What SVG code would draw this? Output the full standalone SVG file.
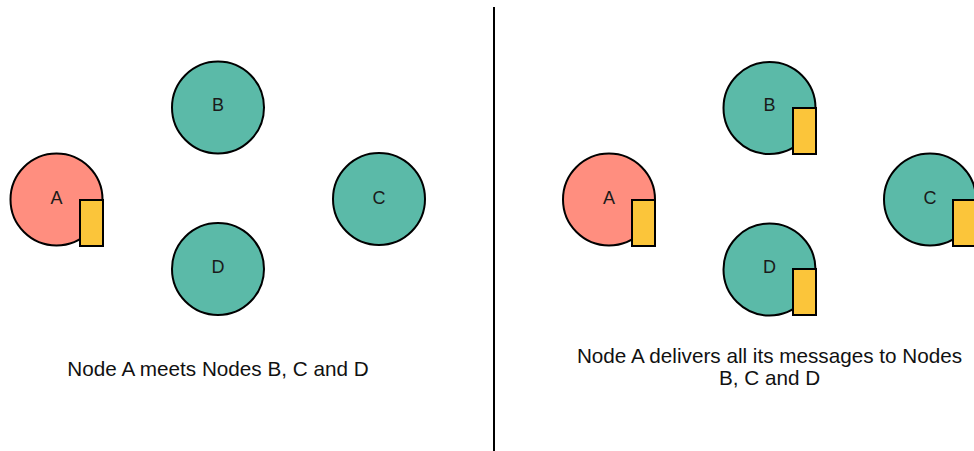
<svg xmlns="http://www.w3.org/2000/svg" width="974" height="451" viewBox="0 0 974 451">
  <style>
    .node { stroke: #000; stroke-width: 2; }
    .a { fill: #FF8E7F; }
    .t { fill: #5BBAA8; }
    .msg { fill: #FBC53A; stroke: #000; stroke-width: 2; }
    .lbl { font-family: "Liberation Sans", Arial, sans-serif; font-size: 18px; fill: #1a1a1a; text-anchor: middle; }
    .cap { font-family: "Liberation Sans", Arial, sans-serif; font-size: 20.7px; fill: #111; text-anchor: middle; }
  </style>
  <rect width="974" height="451" fill="#fff"/>

  <!-- left panel: A meets B, C, D -->
  <g id="left-A">
    <circle class="node a" cx="56.5" cy="199.5" r="46"/>
    <rect class="msg" x="80" y="200" width="23" height="46"/>
    <text class="lbl" x="56.5" y="204">A</text>
  </g>
  <g id="left-B">
    <circle class="node t" cx="218" cy="107.5" r="46"/>
    <text class="lbl" x="218" y="111">B</text>
  </g>
  <g id="left-C">
    <circle class="node t" cx="379" cy="199" r="46"/>
    <text class="lbl" x="379" y="204">C</text>
  </g>
  <g id="left-D">
    <circle class="node t" cx="218" cy="269" r="46"/>
    <text class="lbl" x="218" y="273">D</text>
  </g>
  <text class="cap" x="218" y="376">Node A meets Nodes B, C and D</text>

  <!-- divider -->
  <g id="connectors">
    <line x1="494" y1="7" x2="494" y2="451" stroke="#000" stroke-width="2"/>
  </g>

  <!-- right panel: A delivers messages -->
  <g id="right-A">
    <circle class="node a" cx="609" cy="199.5" r="46"/>
    <rect class="msg" x="632" y="200" width="23" height="46"/>
    <text class="lbl" x="609" y="204">A</text>
  </g>
  <g id="right-B">
    <circle class="node t" cx="769.5" cy="108" r="46"/>
    <rect class="msg" x="793" y="108" width="23" height="46"/>
    <text class="lbl" x="769.5" y="111">B</text>
  </g>
  <g id="right-C">
    <circle class="node t" cx="930" cy="199.5" r="46"/>
    <rect class="msg" x="953" y="200" width="23" height="46"/>
    <text class="lbl" x="930" y="204">C</text>
  </g>
  <g id="right-D">
    <circle class="node t" cx="769.5" cy="269.5" r="46"/>
    <rect class="msg" x="793" y="269" width="23" height="46"/>
    <text class="lbl" x="769.5" y="273">D</text>
  </g>
  <text class="cap" x="769.5" y="363">Node A delivers all its messages to Nodes</text>
  <text class="cap" x="769.5" y="385">B, C and D</text>
</svg>
